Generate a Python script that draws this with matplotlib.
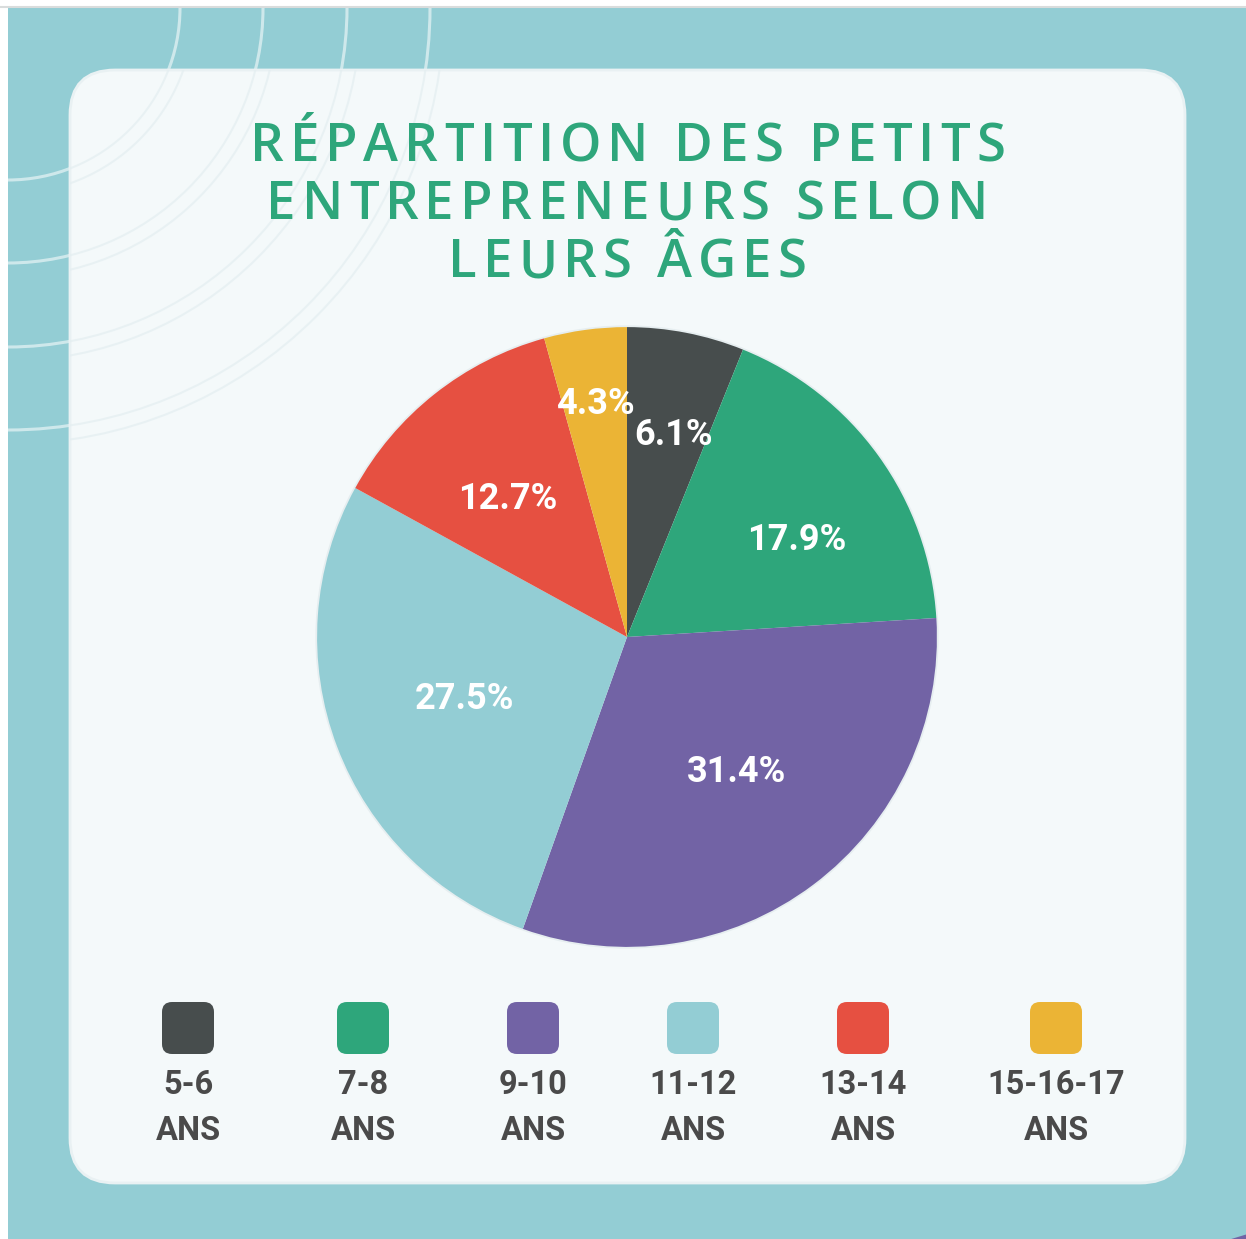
import numpy as np
import matplotlib
matplotlib.use("Agg")
import matplotlib.pyplot as plt
from matplotlib.patches import Rectangle, FancyBboxPatch, Arc, Circle
from matplotlib import font_manager
from matplotlib.ft2font import FT2Font

# ---------------- data ----------------
categories = ["5-6", "7-8", "9-10", "11-12", "13-14", "15-16-17"]
values = [6.1, 17.9, 31.4, 27.5, 12.7, 4.3]
colors = ["#474d4d", "#2ea67b", "#7263a5", "#93cdd4", "#e65041", "#ebb435"]
legend_suffix = "ANS"
title_lines = ["RÉPARTITION DES PETITS", "ENTREPRENEURS SELON", "LEURS ÂGES"]

# ---------------- layout constants ----------------
W, H = 1246, 1239
TEAL = "#93cdd4"
CARD = "#f4f9fa"
TITLE_COLOR = "#2ea67b"
TEXT_DARK = "#4a4a4a"
label_radius = [0.67, 0.63, 0.56, 0.56, 0.59, 0.76]
label_angle_shift = [-2, -6, 2, 0, 2.5, 0]
legend_x = [188, 363, 533, 693, 863, 1056]
TITLE_SIZE = 38
TITLE_W1 = 755
title_baselines = [161, 219, 277]

fig = plt.figure(figsize=(W / 100, H / 100), dpi=100)
fig.patch.set_facecolor("#ffffff")

bg = fig.add_axes([0, 0, 1, 1])
bg.set_xlim(0, W)
bg.set_ylim(H, 0)
bg.axis("off")

# teal background
bg.add_patch(Rectangle((8, 7), W - 8, H - 7, facecolor=TEAL, edgecolor="none", zorder=0))
bg.plot([0, W], [6.5, 6.5], color="#d9dcdc", lw=1.5, zorder=0.5)
# purple blob bottom-right
bg.add_patch(Circle((1350, 1600), 380, facecolor="#7263a5", edgecolor="none", zorder=0.6))

# decorative arcs
for r in [172, 255, 339, 422]:
    bg.add_patch(Arc((8, 8), 2 * r, 2 * r, theta1=0, theta2=90, color="white",
                     lw=2.2, alpha=0.55, zorder=1))

# card
card = FancyBboxPatch((70 + 45, 70 + 45), 1115 - 90, 1113 - 90,
                      boxstyle="round,pad=45", facecolor=CARD,
                      edgecolor="#e9f1f3", lw=2, zorder=2)
bg.add_patch(card)
for r in [172, 255, 339, 422]:
    for dr in (0, 14):
        a = Arc((8, 8), 2 * (r + dr), 2 * (r + dr), theta1=0, theta2=90,
                color="#e4eef1", lw=1.5, alpha=0.7, zorder=2.5)
        bg.add_patch(a)
        a.set_clip_path(card)

# title with letter spacing
fprop = font_manager.FontProperties(family="Open Sans", weight="semibold", size=TITLE_SIZE)
ft = FT2Font(font_manager.findfont(fprop))
ft.set_size(TITLE_SIZE, 100)


def advances(s):
    out = []
    for ch in s:
        g = ft.load_char(ord(ch))
        out.append(g.linearHoriAdvance / 65536.0)
    return out


adv1 = advances(title_lines[0])
spacing = (TITLE_W1 - sum(adv1)) / (len(title_lines[0]) - 1)
for line, yb in zip(title_lines, title_baselines):
    adv = advances(line)
    total = sum(adv) + spacing * (len(line) - 1)
    x = 627.5 - total / 2
    for ch, a in zip(line, adv):
        if ch != " ":
            bg.text(x, yb, ch, ha="left", va="baseline", fontproperties=fprop,
                    color=TITLE_COLOR, zorder=5)
        x += a + spacing

# pie
cx, cy, R = 627, 637, 313
pax = fig.add_axes([(cx - R) / W, (H - cy - R) / H, 2 * R / W, 2 * R / H])
wedges, _ = pax.pie(values, colors=colors, startangle=90, counterclock=False,
                    radius=1.0, wedgeprops=dict(edgecolor="none", linewidth=0))
pax.add_patch(Circle((0, 0), 1.0, facecolor="none", edgecolor="#e6eef0", lw=2.5, zorder=0))
for w, v, lr, da in zip(wedges, values, label_radius, label_angle_shift):
    ang = np.deg2rad((w.theta1 + w.theta2) / 2 + da)
    pax.text(lr * np.cos(ang), lr * np.sin(ang), f"{v:.1f}%", ha="center", va="center",
             color="white", fontsize=26, fontweight="bold", family="Roboto", zorder=6)
pax.set_xlim(-1.01, 1.01)
pax.set_ylim(-1.01, 1.01)
pax.set_aspect("equal")
pax.axis("off")

# legend
for x, c, cat in zip(legend_x, colors, categories):
    bg.add_patch(FancyBboxPatch((x - 26 + 10, 1002 + 10), 52 - 20, 52 - 20,
                                boxstyle="round,pad=10", facecolor=c,
                                edgecolor="none", zorder=5))
    bg.text(x, 1085, cat, ha="center", va="center", fontsize=23.5, fontweight="bold",
            family="Roboto", color=TEXT_DARK, zorder=5)
    bg.text(x, 1131, legend_suffix, ha="center", va="center", fontsize=23.5,
            fontweight="bold", family="Roboto", color=TEXT_DARK, zorder=5)

fig.savefig("out.png", dpi=100, facecolor=fig.get_facecolor())
